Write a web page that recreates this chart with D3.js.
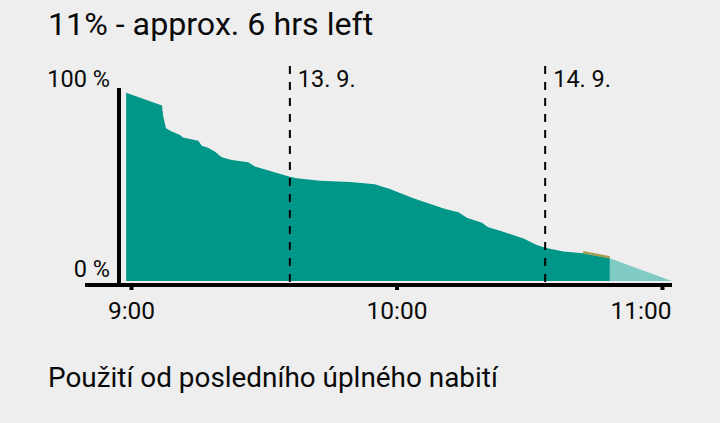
<!DOCTYPE html>
<html>
<head>
<meta charset="utf-8">
<script src="https://cdn.jsdelivr.net/npm/d3@7"></script>
<style>
  html, body { margin: 0; padding: 0; background: #eeeeee; }
  svg { display: block; }
  text { font-family: Roboto, sans-serif; fill: #0a0a0a; }
</style>
</head>
<body>
<svg id="chart" width="720" height="423"></svg>
<script>
// minutes after 9:00 and battery percent
var minutes = [-1.1, 7.0, 7.3, 7.9, 9.2, 11.1, 11.75, 15.2, 16, 17.4, 19, 20.5, 22.8, 26.5, 28, 35.9, 37.4, 42.7, 49.5, 55.1, 58.5, 63.8, 71, 74, 75.9, 79.3, 80.7, 83.4, 88.7, 91.7, 93.6, 97.7, 102.2, 108.2];
var percent = [98.1, 91.4, 85.6, 79.5, 77.8, 76, 74.7, 73.1, 70.5, 69.4, 67.3, 64.4, 63, 61.8, 59.7, 54.3, 53.5, 52.2, 51.6, 50.4, 47.9, 43.1, 37.5, 35.8, 33, 30.4, 28, 26.2, 22.2, 18.8, 17.3, 15.3, 14.4, 11.8];
var projectedMinutes = [108.2, 122.2];
var projectedPercent = [11.8, 0];
var chargingMinutes = [102.2, 108.2];
var chargingPercent = [15.0, 12.3];
var tickMinutes = [0, 60, 120];
var tickLabels = ["9:00", "10:00", "11:00"];
var dayMinutes = [35.9, 93.6];
var dayLabels = ["13. 9.", "14. 9."];
var yLabels = [[100, "100 %"], [0, "0 %"]];

var svg = d3.select("#chart");
var x = d3.scaleLinear().domain([0, 120]).range([131, 662]);
var y = d3.scaleLinear().domain([0, 100]).range([281, 89]);

var area = d3.area()
  .x(function (d) { return x(d[0]); })
  .y0(y(0))
  .y1(function (d) { return y(d[1]); });

// projected part sits behind
svg.append("path")
  .attr("d", area(d3.zip(projectedMinutes, projectedPercent)))
  .attr("fill", "#80cbc4");

svg.append("path")
  .attr("d", area(d3.zip(minutes, percent)))
  .attr("fill", "#009688");

var line = d3.line()
  .x(function (d) { return x(d[0]); })
  .y(function (d) { return y(d[1]); });

svg.append("path")
  .attr("d", line(d3.zip(chargingMinutes, chargingPercent)))
  .attr("fill", "none")
  .attr("stroke", "#a39c52")
  .attr("stroke-width", 2.5);

// dashed day lines
dayMinutes.forEach(function (m, i) {
  svg.append("line")
    .attr("x1", x(m)).attr("x2", x(m))
    .attr("y1", 66).attr("y2", 282)
    .attr("stroke", "#000")
    .attr("stroke-width", 2)
    .attr("stroke-dasharray", "8 8");
  svg.append("text")
    .attr("x", x(m) + 8).attr("y", 87)
    .style("font-size", "23.5px")
    .text(dayLabels[i]);
});

// axes
svg.append("line").attr("x1", 119).attr("x2", 119).attr("y1", 88).attr("y2", 285)
  .attr("stroke", "#000").attr("stroke-width", 4);
svg.append("line").attr("x1", 85).attr("x2", 672).attr("y1", 285).attr("y2", 285)
  .attr("stroke", "#000").attr("stroke-width", 4);

var axis = d3.axisBottom(x)
  .tickValues(tickMinutes)
  .tickFormat(function (d, i) { return tickLabels[i]; })
  .tickSize(4)
  .tickPadding(12);

var gx = svg.append("g").attr("transform", "translate(0,286)").call(axis);
gx.select(".domain").remove();
gx.selectAll(".tick line").attr("stroke", "#000").attr("stroke-width", 4);
gx.selectAll(".tick text").style("font-family", "Roboto, sans-serif").style("font-size", "24.5px").attr("fill", "#0a0a0a");
// last label is pulled back so it ends with the axis
gx.selectAll(".tick text").filter(function (d) { return d === 120; })
  .attr("text-anchor", "end").attr("x", 9);

yLabels.forEach(function (d) {
  svg.append("text")
    .attr("x", 110).attr("y", y(d[0]) + (d[0] === 100 ? -2 : -4))
    .attr("text-anchor", "end")
    .style("font-size", "23.5px")
    .text(d[1]);
});

svg.append("text").attr("x", 48).attr("y", 35)
  .style("font-size", "32.2px")
  .text("11% - approx. 6 hrs left");

svg.append("text").attr("x", 48).attr("y", 387)
  .style("font-size", "27.9px")
  .text("Použití od posledního úplného nabití");
</script>
</body>
</html>
